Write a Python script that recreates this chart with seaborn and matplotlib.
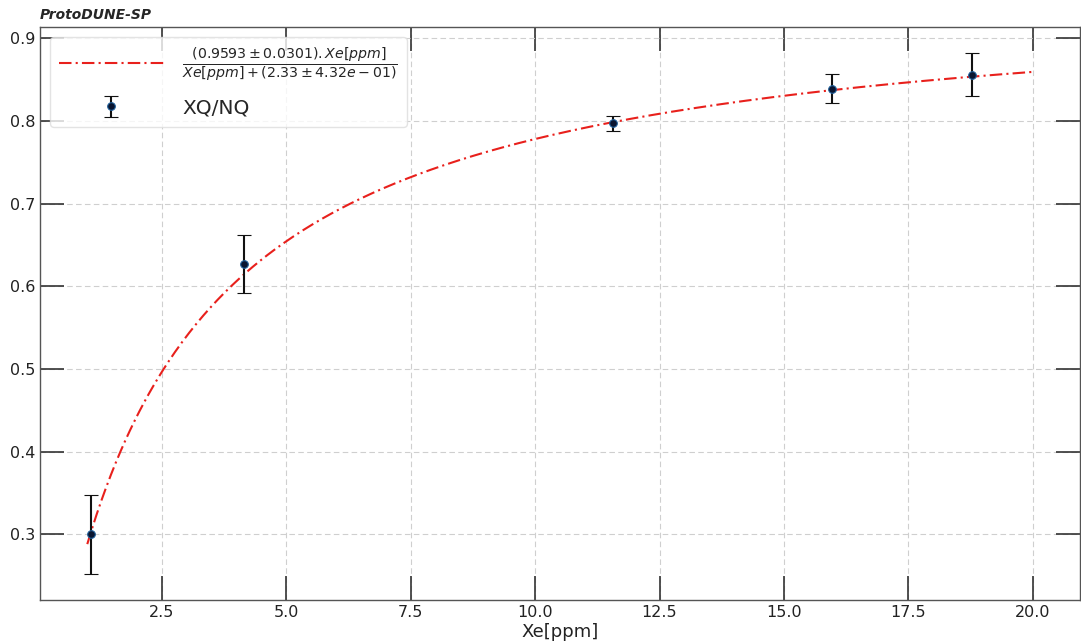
import numpy as np
import pandas as pd
import matplotlib
matplotlib.use("Agg")
import matplotlib.pyplot as plt
import seaborn as sns

# Data points
xe_ppm = [1.08, 4.15, 11.57, 15.96, 18.78]
xq_nq = [0.300, 0.627, 0.797, 0.839, 0.856]
xq_nq_err = [0.048, 0.035, 0.009, 0.018, 0.026]

# Fit parameters (from the legend)
fit_a = 0.9593
fit_a_err = 0.0301
fit_b = 2.33
fit_b_err = 0.432
fit_range = [1.0, 20.0]

sns.set_style("white")
plt.rcParams['font.family'] = ['DejaVu Sans']

fig = plt.figure(figsize=(10.81, 6.44), dpi=100)
ax = fig.add_axes([40/1081, 1 - 600/644, 1040/1081, 573/644])

xfit = np.linspace(fit_range[0], fit_range[1], 400)
fit_df = pd.DataFrame({"x": xfit, "y": fit_a * xfit / (xfit + fit_b)})
fit_label = (r'$\frac{(%.4f\pm%.4f).Xe[ppm]}{Xe[ppm]+(%.2f\pm%.2fe-01)}$'
             % (fit_a, fit_a_err, fit_b, fit_b_err * 10))
sns.lineplot(data=fit_df, x="x", y="y", ax=ax, color="#e8201c", lw=1.5,
             linestyle=(0, (6, 2, 1, 2)), label=fit_label, zorder=2)

ax.errorbar(xe_ppm, xq_nq, yerr=xq_nq_err, fmt='o', ms=5.5,
            mfc='#0a1530', mec='#1f5f99', mew=0.8, ecolor='#111111',
            elinewidth=1.5, capsize=5, capthick=1.5, label='XQ/NQ', zorder=3)

ax.set_xticks([2.5, 5.0, 7.5, 10.0, 12.5, 15.0, 17.5, 20.0])
ax.set_yticks([0.3, 0.4, 0.5, 0.6, 0.7, 0.8, 0.9])
ax.tick_params(direction='in', length=17, width=1.2, labelsize=11.5,
               top=True, right=True, bottom=True, left=True,
               color='#333333', labelcolor='#222222')
ax.grid(True, linestyle=(0, (5, 3)), color='#cfcfcf', lw=0.8)
for s in ax.spines.values():
    s.set_color('#555555')
    s.set_linewidth(1.0)

ax.set_xlabel('Xe[ppm]', fontsize=13, labelpad=2, color='#222222')
ax.set_ylabel('')
ax.set_title('ProtoDUNE-SP', loc='left', fontsize=10, fontweight='bold',
             fontstyle='italic', pad=6)

leg = ax.legend(loc='upper left', fontsize=14.5, framealpha=0.8,
                handlelength=5.2, handletextpad=0.9, borderpad=0.45,
                labelspacing=0.7)
leg.get_frame().set_edgecolor('#dddddd')

fig.savefig('out.png', dpi=100)
